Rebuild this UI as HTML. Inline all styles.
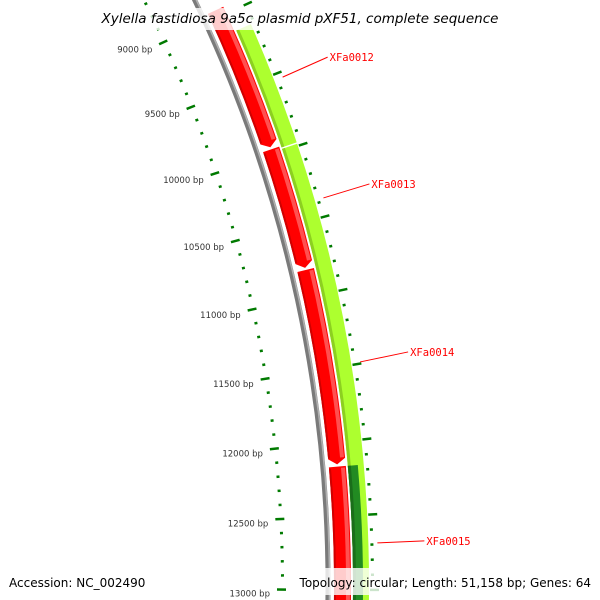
<!DOCTYPE html>
<html><head><meta charset="utf-8"><style>
html,body{margin:0;padding:0;background:#fff;width:600px;height:600px;overflow:hidden;}
svg{display:block;overflow:hidden;}
</style></head><body>
<svg id="map" width="600" height="600" viewBox="0 0 600 600" xmlns="http://www.w3.org/2000/svg">
<g id="ticks"></g>
<g id="backbone"></g>
<g id="features"></g>
<g id="labels"></g>
<rect x="96" y="8" width="410" height="22" fill="#fff" opacity="0.8"/>
<text x="300" y="23" text-anchor="middle" font-family="DejaVu Sans, sans-serif" font-style="italic" font-size="13.5" fill="#000">Xylella fastidiosa 9a5c plasmid pXF51, complete sequence</text>
<rect x="298" y="568" width="302" height="27" fill="#fff" opacity="0.8"/>
<text x="9" y="587" font-family="DejaVu Sans, sans-serif" font-size="12" fill="#000">Accession: NC_002490</text>
<text x="591" y="587" text-anchor="end" font-family="DejaVu Sans, sans-serif" font-size="12" fill="#000">Topology: circular; Length: 51,158 bp; Genes: 64</text>
</svg>
<script>
// data
const reverseGenes = [[8950, 9950], [9965, 10800], [10815, 12150], [12165, 14200]];
const forwardGenes = [[9132, 9975], [9985, 14200]];
const darkForwardGenes = [[12166, 14200]];
const geneLabels = ["XFa0012", "XFa0013", "XFa0014", "XFa0015"];
const geneLabelBp = [9537, 10379, 11489, 12690];
const tickStart = 8700, tickEnd = 13300, tickStep = 100;

const NS = "http://www.w3.org/2000/svg";
const CX = -1022, CY = 585;
const labelDx = [45, 46, 48, 47], labelDy = [-20, -14, -10, -2];
function ang(bp){ return (24.6 - (bp - 9000) * 0.0062) * Math.PI / 180; }
function pt(r, bp){ const a = ang(bp); return [CX + r * Math.cos(a), CY - r * Math.sin(a)]; }
function mk(tag, attrs, parent){ const e = document.createElementNS(NS, tag); for (const k in attrs) e.setAttribute(k, attrs[k]); parent.appendChild(e); return e; }
function arcPath(r1, r2, b1, b2, arrow){
  const h = arrow ? 40 : 0;
  const p1 = pt(r1, b1), p2 = pt(r1, b2 - h), pm = pt((r1 + r2) / 2, b2), p3 = pt(r2, b2 - h), p4 = pt(r2, b1);
  return `M${p1} A${r1},${r1} 0 0 1 ${p2} ${arrow ? 'L' + pm + ' ' : ''}L${p3} A${r2},${r2} 0 0 0 ${p4} Z`;
}
function arcLine(r, b1, b2){ const p1 = pt(r, b1), p2 = pt(r, b2); return `M${p1} A${r},${r} 0 0 1 ${p2}`; }

const bb = document.getElementById('backbone');
let e = mk('path', {d: arcLine(1350, 8600, 13400), stroke: '#7a7a7a', 'stroke-width': 5, fill: 'none'}, bb);


e = mk('path', {d: arcLine(1351.5, 8600, 13400), stroke: '#b0b0b0', 'stroke-width': 1.5, fill: 'none'}, bb);



const fg = document.getElementById('features');
reverseGenes.forEach((g, i) => {
  const last = g[1] > 13500;
  let p = mk('path', {d: arcPath(1356, 1373, g[0], g[1], !last), fill: '#ff0000'}, fg);
  
  
  p = mk('path', {d: arcPath(1368, 1372, g[0] + 10, g[1] - 45, false), fill: '#ff5050'}, fg);
  
  
  p = mk('path', {d: arcPath(1356, 1358, g[0] + 10, g[1] - 45, false), fill: '#d00000'}, fg);
  
  
});
forwardGenes.forEach((g, i) => {
  let p = mk('path', {d: arcPath(1375, 1391, g[0], g[1], false), fill: '#adff2f'}, fg);
  
  
  p = mk('path', {d: arcPath(1375, 1378, g[0], g[1], false), fill: '#8cd020'}, fg);
  
  
});
darkForwardGenes.forEach((g, i) => {
  let p = mk('path', {d: arcPath(1375, 1385, g[0], g[1], false), fill: '#228b22'}, fg);
  
  
  p = mk('path', {d: arcPath(1375, 1378, g[0], g[1], false), fill: '#1a6e1a'}, fg);
  
  
});

const tg = document.getElementById('ticks');
for (let bp = tickStart; bp <= tickEnd; bp += tickStep) {
  const major = bp % 500 === 0;
  const a1 = pt(major ? 1299 : 1303, bp), a2 = pt(major ? 1308 : 1306, bp);
  let t = mk('line', {x1: a1[0], y1: a1[1], x2: a2[0], y2: a2[1], stroke: '#007a00', 'stroke-width': 2.5}, tg);
  
  
  const b1 = pt(major ? 1392 : 1393, bp), b2 = pt(major ? 1401 : 1396, bp);
  t = mk('line', {x1: b1[0], y1: b1[1], x2: b2[0], y2: b2[1], stroke: '#007a00', 'stroke-width': 2.5}, tg);
  
  
  if (major) {
    const lp = pt(1296, bp);
    const tx = mk('text', {x: lp[0] - 4, y: lp[1] + 7, 'text-anchor': 'end', 'font-family': 'DejaVu Sans, sans-serif', 'font-size': 8.5, fill: '#333'}, tg);
    tx.textContent = bp + ' bp';
    
    
  }
}

const lg = document.getElementById('labels');
geneLabels.forEach((name, i) => {
  const s = pt(1400, geneLabelBp[i]);
  const ex = s[0] + labelDx[i], ey = s[1] + labelDy[i];
  let l = mk('line', {x1: s[0], y1: s[1], x2: ex, y2: ey, stroke: '#ff0000', 'stroke-width': 1}, lg);
  
  
  const t = mk('text', {x: ex + 2, y: ey + 4, 'font-family': 'DejaVu Sans Mono, Liberation Mono, monospace', 'font-size': 10.5, fill: '#ff0000'}, lg);
  t.textContent = name;
  
  
});
</script>
</body></html>
